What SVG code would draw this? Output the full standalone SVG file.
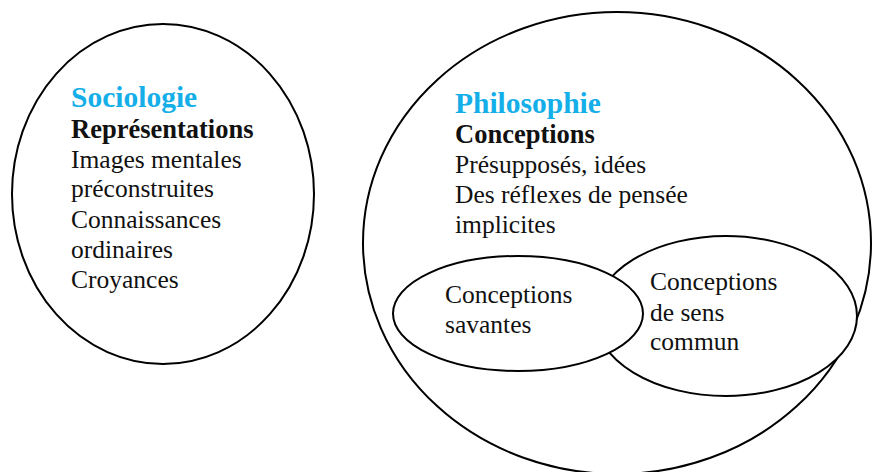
<svg xmlns="http://www.w3.org/2000/svg" width="872" height="472" viewBox="0 0 872 472">
<style>
.sh{fill:#fff;stroke:#000;stroke-width:2}
.t{font-family:'Liberation Serif','DejaVu Serif','Times New Roman',serif;font-size:25.5px;fill:#111}
.b{font-weight:bold;font-size:26.5px}
.h{font-weight:bold;font-size:29.5px;fill:#14aee8}
</style>
<rect width="872" height="472" fill="#fff"/>
<g id="sociologie">
<ellipse class="sh" cx="163" cy="194" rx="151" ry="170"/>
<text class="t h" x="71" y="107">Sociologie</text>
<text class="t b" x="71" y="138">Représentations</text>
<text class="t" x="71" y="168">Images mentales</text>
<text class="t" x="71" y="197">préconstruites</text>
<text class="t" x="71" y="228">Connaissances</text>
<text class="t" x="71" y="258">ordinaires</text>
<text class="t" x="71" y="288">Croyances</text>
</g>
<g id="philosophie">
<ellipse class="sh" cx="617" cy="243" rx="254" ry="231"/>
<text class="t h" x="455" y="113">Philosophie</text>
<text class="t b" x="455" y="143">Conceptions</text>
<text class="t" x="455" y="173">Présupposés, idées</text>
<text class="t" x="455" y="203">Des réflexes de pensée</text>
<text class="t" x="455" y="233">implicites</text>
</g>
<g id="sens-commun">
<ellipse class="sh" cx="726" cy="316" rx="131" ry="80"/>
<text class="t" x="650" y="290">Conceptions</text>
<text class="t" x="650" y="321">de sens</text>
<text class="t" x="650" y="350">commun</text>
</g>
<g id="savantes">
<ellipse class="sh" cx="518" cy="313.5" rx="125" ry="57.5"/>
<text class="t" x="445" y="303">Conceptions</text>
<text class="t" x="445" y="333">savantes</text>
</g>
<g id="connectors"/>
</svg>
